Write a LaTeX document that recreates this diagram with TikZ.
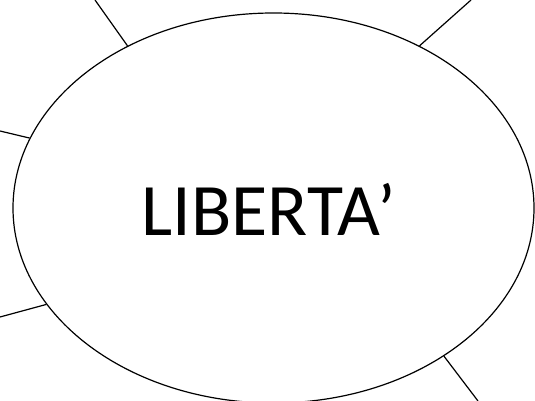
\documentclass[tikz,border=0pt]{standalone}
\usepackage{fontspec}
\setmainfont{Carlito}
\usetikzlibrary{shapes.geometric}
\begin{document}
\begin{tikzpicture}[x=1pt,y=-1pt,
  ring/.style={draw, ellipse, line width=1.2pt, inner sep=0pt, minimum width=521pt, minimum height=390pt},
  spoke/.style={draw, line width=1.2pt},
  word/.style={inner sep=0pt, font=\fontsize{74}{80}\selectfont}]
\useasboundingbox (0,0) rectangle (535,401);
\node[ring] (e) at (273.5,208) {};
\node[word, anchor=base] (t) at (269,235) {LIBERTA’};
\coordinate (p1) at (95,0);
\coordinate (p2) at (471,0);
\coordinate (p3) at (0,131);
\coordinate (p4) at (0,317);
\coordinate (p5) at (478,401);
\draw[spoke] (e.132.8) -- (p1);
\draw[spoke] (e.48.0) -- (p2);
\draw[spoke] (e.164.4) -- (p3);
\draw[spoke] (e.203.4) -- (p4);
\draw[spoke] (e.319.1) -- (p5);
\end{tikzpicture}
\end{document}
